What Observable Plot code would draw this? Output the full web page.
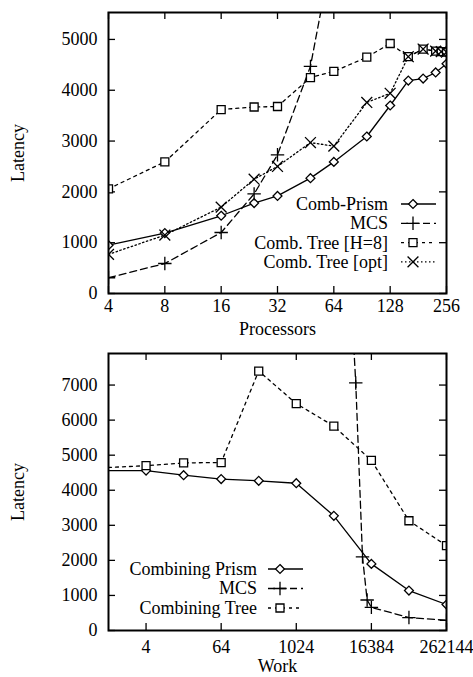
<!DOCTYPE html>
<html><head><meta charset="utf-8">
<script src="https://cdn.jsdelivr.net/npm/d3@7"></script>
<script src="https://cdn.jsdelivr.net/npm/@observablehq/plot@0.6"></script>
<style>
body{margin:0;background:#fff;}
#chart{width:473px;}
#chart svg{display:block;}
</style>
</head><body><div id="chart"></div>
<script>
// ---------- Top panel: latency vs processors ----------
const procTicks = [4, 8, 16, 32, 64, 128, 256];
const latTicksTop = [0, 1000, 2000, 3000, 4000, 5000];
const procPrism = [4, 8, 16, 24, 32, 48, 64, 96, 128, 160, 192, 224, 256];
const latPrism = [950, 1190, 1530, 1780, 1920, 2270, 2590, 3090, 3700, 4190, 4230, 4350, 4520];
const procMCS = [4, 8, 16, 24, 32, 48, 64];
const latMCS = [310, 590, 1200, 1960, 2730, 4470, 6900];
const procTreeH8 = [4, 8, 16, 24, 32, 48, 64, 96, 128, 160, 192, 224, 240, 256];
const latTreeH8 = [2060, 2590, 3620, 3670, 3680, 4250, 4370, 4650, 4920, 4660, 4810, 4770, 4760, 4750];
const procTreeOpt = [4, 8, 16, 24, 32, 48, 64, 96, 128, 160, 192, 224, 240, 256];
const latTreeOpt = [770, 1150, 1700, 2250, 2500, 2970, 2900, 3760, 3940, 4660, 4810, 4770, 4760, 4750];
const namesTop = ["Comb-Prism", "MCS", "Comb. Tree [H=8]", "Comb. Tree [opt]"];

// ---------- Bottom panel: latency vs work ----------
const workTicks = [4, 64, 1024, 16384, 262144];
const latTicksBottom = [0, 1000, 2000, 3000, 4000, 5000, 6000, 7000];
const workPrism = [1, 4, 16, 64, 256, 1024, 4096, 16384, 65536, 262144];
const latWPrism = [4560, 4560, 4430, 4320, 4270, 4200, 3270, 1900, 1140, 740];
const workTree = [1, 4, 16, 64, 256, 1024, 4096, 16384, 65536, 262144];
const latWTree = [4650, 4700, 4780, 4790, 7400, 6470, 5830, 4850, 3130, 2420];
const workMCS = [8192, 9200, 11800, 14000, 16384, 65536, 262144];
const latWMCS = [8700, 7060, 2100, 870, 660, 370, 290];
const namesBottom = ["Combining Prism", "MCS", "Combining Tree"];

const FONT = "'Liberation Serif', 'Times New Roman', 'DejaVu Serif', serif";
const FS = 18;
const W = 473, ML = 108, MR = 27;

const zip = (xs, ys) => xs.map((x, i) => ({x, y: ys[i]}));

const STY = {
  solid: {dash: null, symbol: "diamond2", r: 4},
  dash: {dash: "7,4", symbol: "plus", r: 4.4},
  sdash: {dash: "3,4", symbol: "square2", r: 5.1},
  dot: {dash: "1.5,2.5", symbol: "times", r: 5},
};
const D3SYM = {diamond2: d3.symbolDiamond2, plus: d3.symbolPlus, square2: d3.symbolSquare2, times: d3.symbolTimes};

function panel({height, marginTop, marginBottom, xDomain, xTicks, yDomain, yTicks, xLabel, xPad, xLabelDy, markerMinX, series, legend}) {
  const fw = W - ML - MR, fh = height - marginTop - marginBottom;
  const marks = [
    Plot.ruleY(yTicks, {y: d => d, insetRight: fw - 7, stroke: "black", strokeWidth: 1.3}),
    Plot.ruleY(yTicks, {y: d => d, insetLeft: fw - 7, stroke: "black", strokeWidth: 1.3}),
    Plot.ruleX(xTicks, {x: d => d, insetTop: fh - 7, stroke: "black", strokeWidth: 1.3}),
    Plot.ruleX(xTicks, {x: d => d, insetBottom: fh - 7, stroke: "black", strokeWidth: 1.3}),
    Plot.axisY(yTicks, {tickSize: 0, tickPadding: 11, tickFormat: d3.format("d"), label: null}),
    Plot.axisX(xTicks, {tickSize: 0, tickPadding: xPad, tickFormat: d3.format("d"), label: null}),
    Plot.text(["Latency"], {frameAnchor: "left", dx: -90, rotate: -90, textAnchor: "middle", lineAnchor: "middle", fontSize: FS}),
    Plot.text([xLabel], {frameAnchor: "bottom", dy: xLabelDy, textAnchor: "middle", lineAnchor: "middle", fontSize: FS}),
  ];
  for (const s of series) {
    const st = STY[s.style];
    marks.push(Plot.line(s.data, {x: "x", y: "y", stroke: "black", strokeWidth: 1.3, strokeDasharray: st.dash, clip: true}));
  }
  for (const s of series) {
    const st = STY[s.style];
    const pts = s.data.filter(d => d.x >= markerMinX);
    marks.push(Plot.dot(pts, {x: "x", y: "y", symbol: st.symbol, r: st.r, stroke: "black", strokeWidth: 1.3, fill: "white", clip: true}));
  }
  marks.push(Plot.frame({stroke: "black", strokeWidth: 2}));
  const svg = Plot.plot({
    width: W, height, marginLeft: ML, marginRight: MR, marginTop, marginBottom,
    style: {fontFamily: FONT, fontSize: FS + "px", color: "black", background: "white"},
    x: {type: "log", base: 2, domain: xDomain},
    y: {domain: yDomain},
    marks
  });
  const g = d3.select(svg).append("g").attr("font-family", FONT).attr("font-size", FS);
  series.forEach((s, i) => {
    const st = STY[s.style];
    const y = legend.y0 + i * legend.dy;
    g.append("text").attr("x", legend.xText).attr("y", y).attr("dy", "0.33em")
      .attr("text-anchor", "end").attr("fill", "black").text(s.name);
    g.append("line").attr("x1", legend.xLine).attr("x2", legend.xLine + legend.len)
      .attr("y1", y).attr("y2", y).attr("stroke", "black").attr("stroke-width", 1.3)
      .attr("stroke-dasharray", st.dash);
    g.append("path").attr("transform", `translate(${legend.xLine + legend.mk},${y})`)
      .attr("d", d3.symbol(D3SYM[st.symbol], Math.PI * st.r * st.r)())
      .attr("fill", "white").attr("stroke", "black").attr("stroke-width", 1.3);
  });
  return svg;
}

const topPanel = panel({
  height: 340, marginTop: 12, marginBottom: 47,
  xDomain: [4, 256], xTicks: procTicks, yDomain: [0, 5530], yTicks: latTicksTop,
  xLabel: "Processors", xPad: 6, xLabelDy: 36, markerMinX: 4,
  series: [
    {name: namesTop[0], style: "solid", data: zip(procPrism, latPrism)},
    {name: namesTop[1], style: "dash", data: zip(procMCS, latMCS)},
    {name: namesTop[2], style: "sdash", data: zip(procTreeH8, latTreeH8)},
    {name: namesTop[3], style: "dot", data: zip(procTreeOpt, latTreeOpt)},
  ],
  legend: {xText: 388, xLine: 401, len: 35, mk: 12, y0: 204, dy: 19.3}
});

const bottomPanel = panel({
  height: 337, marginTop: 13, marginBottom: 47,
  xDomain: [1, 262144], xTicks: workTicks, yDomain: [0, 7900], yTicks: latTicksBottom,
  xLabel: "Work", xPad: 10, xLabelDy: 36, markerMinX: 2,
  series: [
    {name: namesBottom[0], style: "solid", data: zip(workPrism, latWPrism)},
    {name: namesBottom[1], style: "dash", data: zip(workMCS, latWMCS)},
    {name: namesBottom[2], style: "sdash", data: zip(workTree, latWTree)},
  ],
  legend: {xText: 257, xLine: 268, len: 35, mk: 12, y0: 229, dy: 19.5}
});

document.getElementById("chart").append(topPanel, bottomPanel);
</script>
</body></html>
